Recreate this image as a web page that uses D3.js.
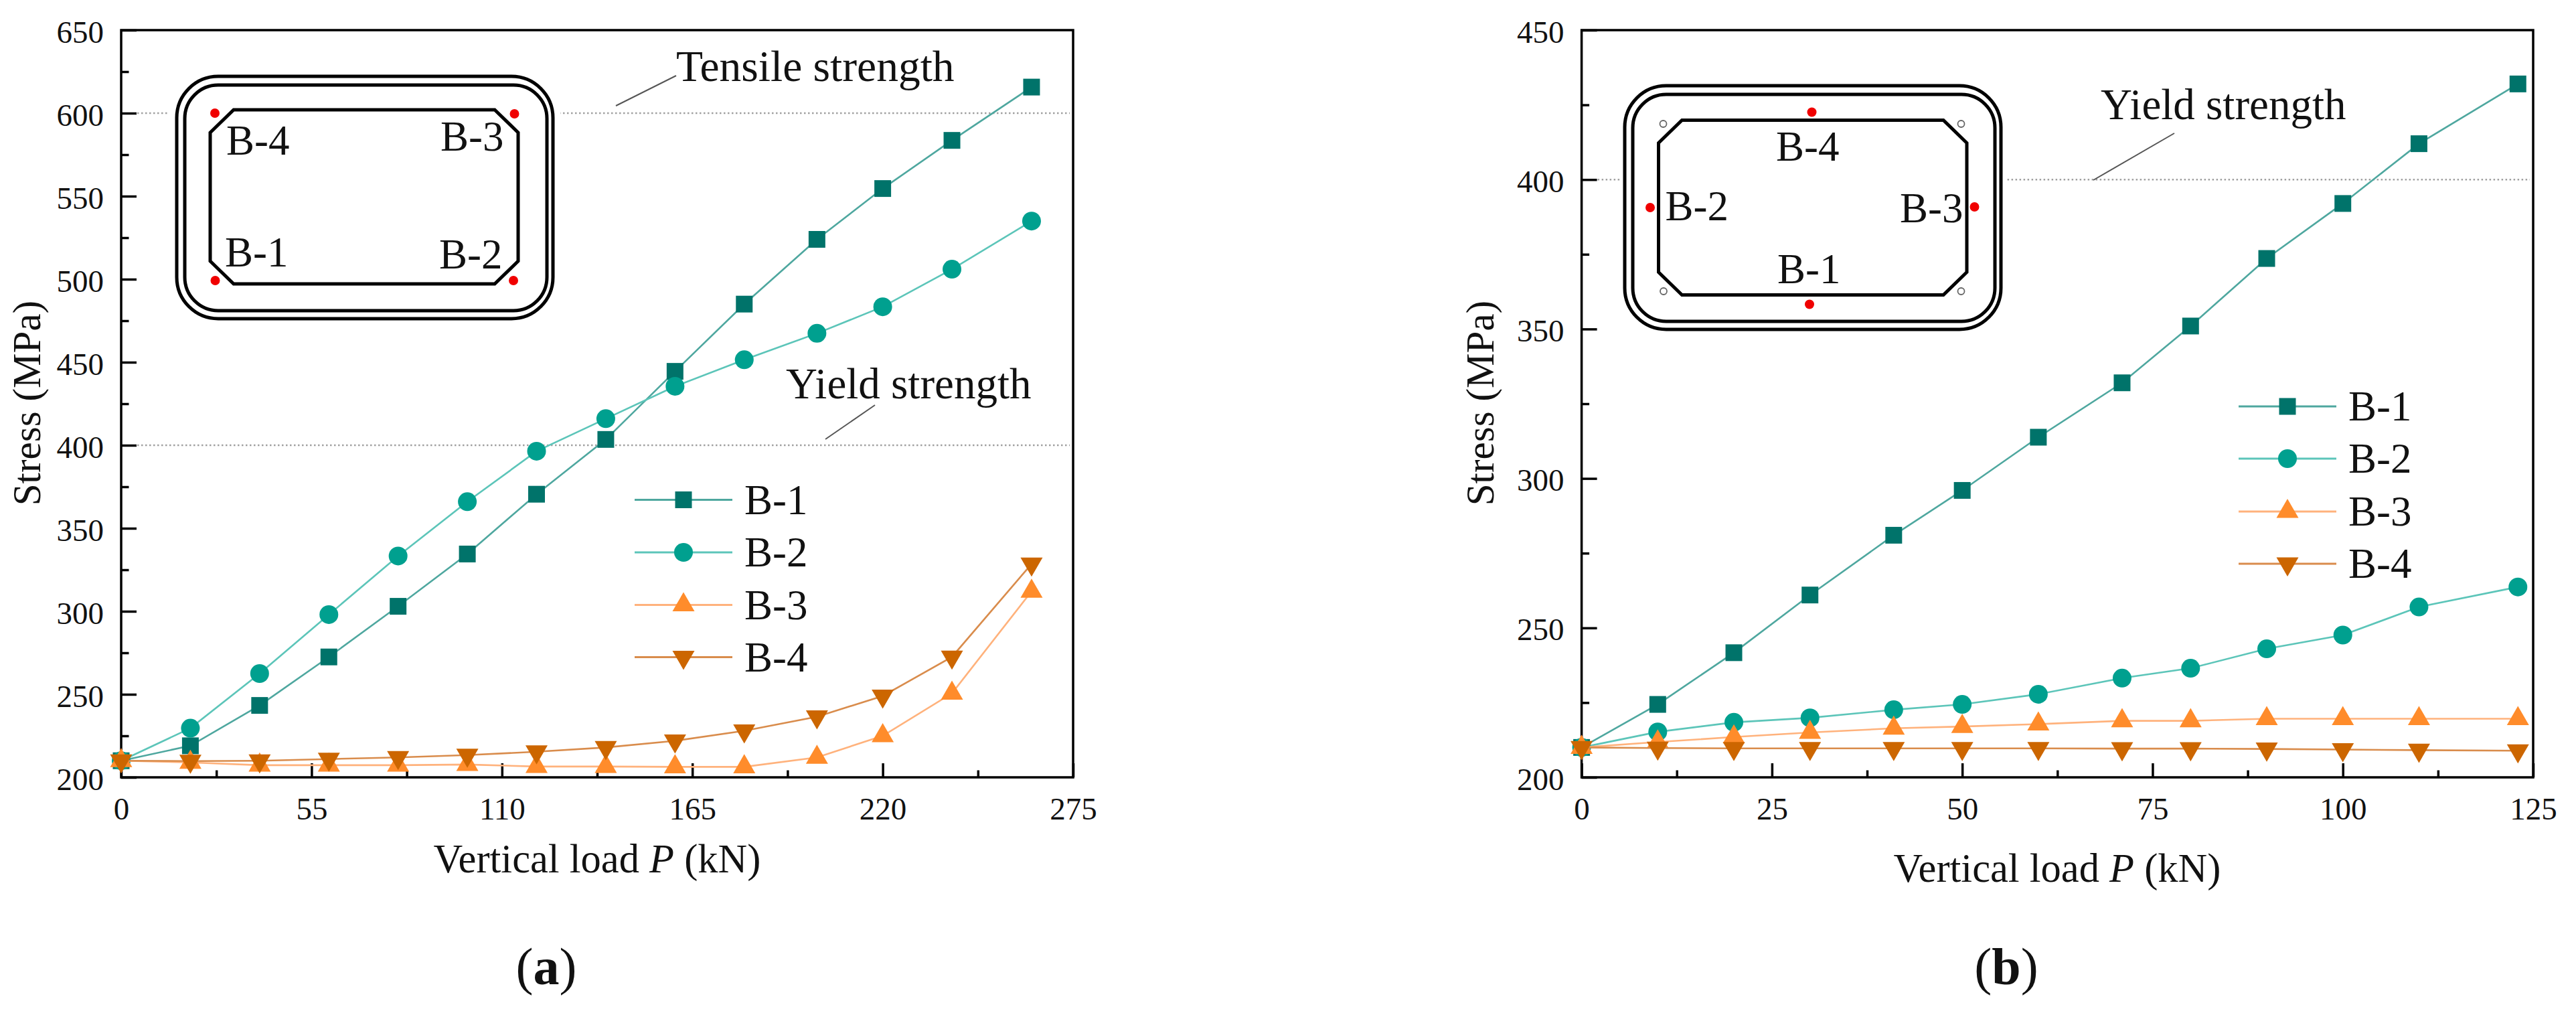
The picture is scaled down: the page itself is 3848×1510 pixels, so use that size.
<!DOCTYPE html>
<html>
<head>
<meta charset="utf-8">
<script src="https://cdn.jsdelivr.net/npm/d3@7"></script>
<style>
  html, body { margin: 0; padding: 0; background: #fff; }
  svg { display: block; }
  text { font-family: "Liberation Serif", serif; fill: #111; }
</style>
</head>
<body>
<div class="canvas"></div>
<script>
// panel (a) values
const loadA = [0, 20, 40, 60, 80, 100, 120, 140, 160, 180, 201, 220, 240, 263];
const b1A = [210, 219, 243.3, 272.5, 303, 334.5, 370.5, 403.5, 444.5, 485, 524, 554.6, 583.6, 615.7];
const b2A = [210, 229.6, 262.5, 298, 333.3, 366, 396.4, 416, 435.5, 451.5, 467.4, 483.4, 506, 535];
const b3A = [210, 209, 207.3, 207.3, 207.3, 207.7, 206.5, 206.5, 206.3, 206.3, 212, 225, 250.6, 312];
const b4A = [210, 209.8, 210, 211, 212, 213.4, 215.4, 218, 222, 228, 236.5, 249, 272.5, 328.5];

// panel (b) values
const loadB = [0, 10, 20, 30, 41, 50, 60, 71, 80, 90, 100, 110, 123];
const b1B = [210, 224.4, 241.7, 261, 281, 296, 313.8, 332, 351, 373.6, 392, 412, 432];
const b2B = [210, 215.2, 218.4, 219.9, 222.6, 224.4, 227.8, 233.2, 236.5, 243, 247.6, 257, 263.7];
const b3B = [210, 211.8, 213.5, 215, 216.4, 217, 217.8, 218.9, 218.9, 219.6, 219.6, 219.6, 219.6];
const b4B = [210, 209.8, 209.7, 209.7, 209.7, 209.7, 209.7, 209.6, 209.6, 209.5, 209.3, 209.1, 208.9];

const seriesNames = ["B-1", "B-2", "B-3", "B-4"];

// tick labels
const yTicksA = [200, 250, 300, 350, 400, 450, 500, 550, 600, 650];
const yMinorA = [225, 275, 325, 375, 425, 475, 525, 575, 625];
const xTicksA = [0, 55, 110, 165, 220, 275];
const xMinorA = [27.5, 82.5, 137.5, 192.5, 247.5];
const yTicksB = [200, 250, 300, 350, 400, 450];
const yMinorB = [225, 275, 325, 375, 425];
const xTicksB = [0, 25, 50, 75, 100, 125];
const xMinorB = [12.5, 37.5, 62.5, 87.5, 112.5];

const markerColor = ["#00736a", "#00a08f", "#ff8c2b", "#cc6600"];
const lineColor = ["#4ea79f", "#5cc5b9", "#ffb27c", "#d98c4c"];

const markerSize = 25 * 25;
const circleSize = Math.PI * 14 * 14;
const triSize = (Math.sqrt(3) / 4) * 33 * 33;
const shapes = [
  { type: d3.symbolSquare, size: markerSize, rotate: 0 },
  { type: d3.symbolCircle, size: circleSize, rotate: 0 },
  { type: d3.symbolTriangle, size: triSize, rotate: 0 },
  { type: d3.symbolTriangle, size: triSize, rotate: 180 },
];

const svg = d3
  .select(".canvas")
  .append("svg")
  .attr("width", 3848)
  .attr("height", 1510)
  .attr("viewBox", "0 0 3848 1510");

const plotTop = 45;
const plotBottom = 1161;

const drawMarker = (group, i, px, py) => {
  const s = shapes[i];
  group
    .append("path")
    .attr("d", d3.symbol().type(s.type).size(s.size)())
    .attr("fill", markerColor[i])
    .attr("transform", `translate(${px},${py}) rotate(${s.rotate})`);
};

const drawPanel = (p) => {
  const x = d3.scaleLinear().domain(p.xDomain).range([p.left, p.right]);
  const y = d3.scaleLinear().domain(p.yDomain).range([plotBottom, plotTop]);
  const graph = svg.append("g");

  // dotted strength lines
  p.refLines.forEach((v) => {
    graph
      .append("line")
      .attr("x1", p.left + 24)
      .attr("x2", p.right - 5)
      .attr("y1", y(v))
      .attr("y2", y(v))
      .attr("stroke", "#a0a0a0")
      .attr("stroke-width", 2.4)
      .attr("stroke-dasharray", "2.5 3.5");
  });

  // axes, ticks point inward
  const yAxis = d3.axisLeft(y).tickValues(p.yTicks).tickSize(-23).tickSizeOuter(0).tickPadding(26);
  const yMinor = d3.axisLeft(y).tickValues(p.yMinor).tickSize(-11.5).tickSizeOuter(0).tickFormat("");
  const xAxis = d3.axisBottom(x).tickValues(p.xTicks).tickSize(-21).tickSizeOuter(0).tickPadding(0);
  const xMinor = d3.axisBottom(x).tickValues(p.xMinor).tickSize(-10.5).tickSizeOuter(0).tickFormat("");

  const yGroup = graph.append("g").attr("transform", `translate(${p.left},0)`).call(yAxis);
  graph.append("g").attr("transform", `translate(${p.left},0)`).call(yMinor);
  const xGroup = graph.append("g").attr("transform", `translate(0,${plotBottom})`).call(xAxis);
  graph.append("g").attr("transform", `translate(0,${plotBottom})`).call(xMinor);

  graph.selectAll(".domain").remove();
  graph.selectAll(".tick line").attr("stroke", "#000").attr("stroke-width", 3.5);
  yGroup.selectAll("text").attr("dy", 18).style("font-family", "Liberation Serif").style("font-size", "47px").attr("fill", "#111");
  xGroup.selectAll("text").attr("y", 63).attr("dy", 0).style("font-family", "Liberation Serif").style("font-size", "47px").attr("fill", "#111");

  graph
    .append("rect")
    .attr("x", p.left)
    .attr("y", plotTop)
    .attr("width", p.right - p.left)
    .attr("height", plotBottom - plotTop)
    .attr("fill", "none")
    .attr("stroke", "#000")
    .attr("stroke-width", 3.5);

  // axis titles
  graph
    .append("text")
    .attr("transform", `translate(${p.yTitleX},602) rotate(-90)`)
    .attr("text-anchor", "middle")
    .style("font-size", "59px")
    .text("Stress (MPa)");

  const xTitle = graph
    .append("text")
    .attr("x", p.xTitleX)
    .attr("y", p.xTitleY)
    .attr("text-anchor", "middle")
    .style("font-size", "60.5px");
  xTitle.append("tspan").text("Vertical load ");
  xTitle.append("tspan").attr("font-style", "italic").text("P");
  xTitle.append("tspan").text(" (kN)");

  // inset section
  drawInset(graph, p.inset);

  // leader lines and notes
  p.notes.forEach((n) => {
    graph
      .append("line")
      .attr("x1", n.line[0])
      .attr("y1", n.line[1])
      .attr("x2", n.line[2])
      .attr("y2", n.line[3])
      .attr("stroke", "#555")
      .attr("stroke-width", 2);
    graph
      .append("text")
      .attr("x", n.x)
      .attr("y", n.y)
      .style("font-size", n.size + "px")
      .text(n.text);
  });

  // series
  const line = d3
    .line()
    .x((d) => x(d[0]))
    .y((d) => y(d[1]));

  p.series.forEach((vals, i) => {
    const pts = vals.map((v, k) => [p.load[k], v]);
    graph
      .append("path")
      .attr("d", line(pts))
      .attr("fill", "none")
      .attr("stroke", lineColor[i])
      .attr("stroke-width", 2.6);
    pts.forEach((d) => drawMarker(graph, i, x(d[0]), y(d[1])));
  });

  // legend
  seriesNames.forEach((name, i) => {
    const ly = p.legend.ys[i];
    graph
      .append("line")
      .attr("x1", p.legend.x1)
      .attr("x2", p.legend.x2)
      .attr("y1", ly)
      .attr("y2", ly)
      .attr("stroke", lineColor[i])
      .attr("stroke-width", 3);
    drawMarker(graph, i, (p.legend.x1 + p.legend.x2) / 2, ly);
    graph
      .append("text")
      .attr("x", p.legend.textX)
      .attr("y", ly + 21)
      .style("font-size", "63px")
      .text(name);
  });

  // panel tag
  const tag = graph
    .append("text")
    .attr("x", p.tagX)
    .attr("y", 1470)
    .attr("text-anchor", "middle")
    .style("font-size", "78px");
  tag.append("tspan").text("(");
  tag.append("tspan").attr("font-weight", "bold").text(p.tag);
  tag.append("tspan").text(")");
};

const drawInset = (graph, s) => {
  // white block hides the dotted line behind the section
  graph
    .append("rect")
    .attr("x", s.clear[0])
    .attr("y", s.outer[1] - 6)
    .attr("width", s.clear[1] - s.clear[0])
    .attr("height", s.outer[3] - s.outer[1] + 12)
    .attr("fill", "#fff");

  [
    [s.outer, 62],
    [s.middle, 50],
  ].forEach(([r, radius]) => {
    graph
      .append("rect")
      .attr("x", r[0])
      .attr("y", r[1])
      .attr("width", r[2] - r[0])
      .attr("height", r[3] - r[1])
      .attr("rx", radius)
      .attr("ry", radius)
      .attr("fill", "none")
      .attr("stroke", "#000")
      .attr("stroke-width", 5);
  });

  const [l, t, r, b] = s.inner;
  const cx = 35;
  const cy = 34;
  const oct = d3.path();
  oct.moveTo(l + cx, t);
  oct.lineTo(r - cx, t);
  oct.lineTo(r, t + cy);
  oct.lineTo(r, b - cy);
  oct.lineTo(r - cx, b);
  oct.lineTo(l + cx, b);
  oct.lineTo(l, b - cy);
  oct.lineTo(l, t + cy);
  oct.closePath();
  graph
    .append("path")
    .attr("d", oct.toString())
    .attr("fill", "none")
    .attr("stroke", "#000")
    .attr("stroke-width", 5);

  s.red.forEach((d) => {
    graph.append("circle").attr("cx", d[0]).attr("cy", d[1]).attr("r", 7).attr("fill", "#f00000");
  });
  s.hollow.forEach((d) => {
    graph
      .append("circle")
      .attr("cx", d[0])
      .attr("cy", d[1])
      .attr("r", 5)
      .attr("fill", "#fff")
      .attr("stroke", "#666")
      .attr("stroke-width", 1.8);
  });
  s.labels.forEach((d) => {
    graph
      .append("text")
      .attr("x", d[1])
      .attr("y", d[2])
      .style("font-size", "63px")
      .text(d[0]);
  });
};

drawPanel({
  left: 181,
  right: 1603,
  xDomain: [0, 275],
  yDomain: [200, 650],
  load: loadA,
  series: [b1A, b2A, b3A, b4A],
  yTicks: yTicksA,
  yMinor: yMinorA,
  xTicks: xTicksA,
  xMinor: xMinorA,
  refLines: [400, 600],
  yTitleX: 60,
  xTitleX: 892,
  xTitleY: 1303,
  tag: "a",
  tagX: 816,
  notes: [
    { text: "Tensile strength", x: 1010, y: 121, size: 65.5, line: [920, 158, 1010, 113] },
    { text: "Yield strength", x: 1174, y: 595, size: 65, line: [1233, 656, 1307, 605] },
  ],
  legend: { x1: 948, x2: 1094, textX: 1112, ys: [746.5, 825, 903.5, 981.5] },
  inset: {
    clear: [250, 837],
    outer: [264, 114, 826, 476],
    middle: [276, 127, 817, 464],
    inner: [314, 164, 774, 424],
    red: [[321, 169], [768.5, 170], [321.5, 419], [767, 419]],
    hollow: [],
    labels: [["B-4", 338, 231], ["B-3", 658, 224.5], ["B-1", 336, 398], ["B-2", 656, 401]],
  },
});

drawPanel({
  left: 2362.6,
  right: 3784,
  xDomain: [0, 125],
  yDomain: [200, 450],
  load: loadB,
  series: [b1B, b2B, b3B, b4B],
  yTicks: yTicksB,
  yMinor: yMinorB,
  xTicks: xTicksB,
  xMinor: xMinorB,
  refLines: [400],
  yTitleX: 2231,
  xTitleX: 3073,
  xTitleY: 1317,
  tag: "b",
  tagX: 2997,
  notes: [
    { text: "Yield strength", x: 3138, y: 178, size: 65, line: [3127, 269, 3248, 199] },
  ],
  legend: { x1: 3344, x2: 3490, textX: 3508, ys: [607, 685, 764, 842] },
  inset: {
    clear: [2422, 2998],
    outer: [2427, 128, 2989, 492],
    middle: [2439, 141, 2980, 480],
    inner: [2477.5, 179.5, 2938, 440.5],
    red: [[2706.5, 167.5], [2703, 454.5], [2465, 310], [2949.5, 309]],
    hollow: [[2484.5, 185], [2485, 435], [2929.5, 185], [2929.5, 435]],
    labels: [["B-4", 2653, 240], ["B-2", 2487.5, 329], ["B-3", 2838, 332], ["B-1", 2655, 423]],
  },
});
</script>
</body>
</html>
